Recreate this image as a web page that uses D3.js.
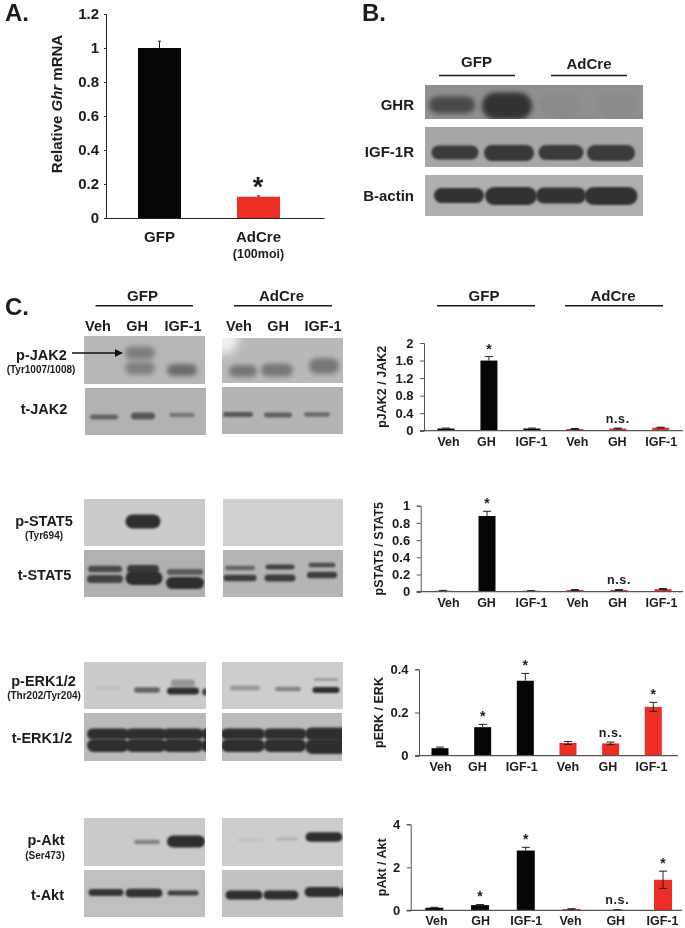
<!DOCTYPE html>
<html>
<head>
<meta charset="utf-8">
<script src="https://cdn.jsdelivr.net/npm/d3@7"></script>
<style>
  html, body { margin: 0; padding: 0; background: #fff; }
  svg { display: block; filter: blur(0.45px); }
  text { font-family: "Liberation Sans", Arial, sans-serif; font-weight: bold; fill: #1c1c1c; }
</style>
</head>
<body>
<svg width="685" height="928"></svg>
<script>
// --- values ---
var ghrCategories = ["GFP", "AdCre"];
var ghrValues = [1, 0.125];
var ghrErrors = [0.04, 0.005];
var ghrTicks = [0, 0.2, 0.4, 0.6, 0.8, 1, 1.2];

var treatments = ["Veh", "GH", "IGF-1", "Veh", "GH", "IGF-1"];
var groupColors = ["#050505", "#050505", "#050505", "#ee2e24", "#ee2e24", "#ee2e24"];

var jak2Values = [0.05, 1.6, 0.05, 0.04, 0.05, 0.07];
var jak2Errors = [0.01, 0.09, 0.01, 0.01, 0.01, 0.01];
var jak2Marks = ["", "*", "", "", "n.s.", ""];
var jak2Ticks = [0, 0.4, 0.8, 1.2, 1.6, 2];

var stat5Values = [0.01, 0.88, 0.01, 0.02, 0.02, 0.03];
var stat5Errors = [0.005, 0.055, 0.003, 0.005, 0.005, 0.007];
var stat5Marks = ["", "*", "", "", "n.s.", ""];
var stat5Ticks = [0, 0.2, 0.4, 0.6, 0.8, 1];

var erkValues = [0.035, 0.132, 0.347, 0.059, 0.057, 0.226];
var erkErrors = [0.005, 0.013, 0.034, 0.007, 0.006, 0.021];
var erkMarks = ["", "*", "*", "", "n.s.", "*"];
var erkTicks = [0, 0.2, 0.4];

var aktValues = [0.12, 0.24, 2.78, 0.06, 0.02, 1.42];
var aktErrors = [0.02, 0.03, 0.15, 0.01, 0.005, 0.4];
var aktMarks = ["", "*", "*", "", "n.s.", "*"];
var aktTicks = [0, 2, 4];

// band darkness per lane, 0 = nothing, 1 = saturated film
var ghrBlot = [0.72, 0.95, 0.07, 0.06, 0.2, 0.2];
var igf1rBlot = [0.9, 0.92, 0.9, 0.9];
var actinBlot = [0.97, 0.97, 0.97, 0.97];
var pJak2GfpBlot = [0.42, 0.4, 0.55];
var pJak2CreBlot = [0.5, 0.48, 0.48];
var tJak2GfpBlot = [0.6, 0.68, 0.45];
var tJak2CreBlot = [0.68, 0.62, 0.55];
var pStat5GfpBlot = [1];
var tStat5GfpBlot = [0.8, 0.85, 0.9, 1, 0.65, 1];
var tStat5CreBlot = [0.6, 0.88, 0.85, 0.9, 0.78, 0.9];
var pErkGfpBlot = [0.08, 0.65, 0.35, 1, 0.85];
var pErkCreBlot = [0.32, 0.45, 0.3, 1];
var tErkGfpBlot = [1, 1, 1, 1, 1, 1, 1, 1];
var tErkCreBlot = [1, 1, 1, 1, 1, 1];
var pAktGfpBlot = [0.45, 1];
var pAktCreBlot = [0.08, 0.16, 1];
var tAktGfpBlot = [0.95, 0.98, 0.88];
var tAktCreBlot = [1, 1, 1, 0.95];

var svg = d3.select("svg");
var defs = svg.append("defs");

[["soft", 2.4], ["softer", 4], ["sharp", 1.15]].forEach(function(f) {
  defs.append("filter").attr("id", f[0])
      .attr("x", "-40%").attr("y", "-300%").attr("width", "180%").attr("height", "700%")
    .append("feGaussianBlur").attr("stdDeviation", f[1]);
});

function addText(s, x, y, size, anchor, parent) {
  return (parent || svg).append("text")
      .attr("x", x).attr("y", y)
      .attr("font-size", size)
      .attr("text-anchor", anchor || "middle")
      .text(s);
}

function rule(x1, x2, y) {
  svg.append("line").attr("x1", x1).attr("x2", x2).attr("y1", y).attr("y2", y)
      .attr("stroke", "#1c1c1c").attr("stroke-width", 1.5);
}

// --- panel letters and headers ---
addText("A.", 5, 21, 24, "start");
addText("B.", 362, 21, 24, "start");
addText("C.", 5, 315, 24, "start");

addText("GFP", 476.5, 67, 15);
addText("AdCre", 589, 69, 15);
rule(439, 515, 75.5);
rule(551, 627, 75.5);

addText("GFP", 142.5, 301, 15);
addText("AdCre", 281.5, 301, 15);
rule(95.5, 193, 305.7);
rule(234, 332, 305.7);
addText("GFP", 484, 301, 15);
addText("AdCre", 613, 301, 15);
rule(437, 535, 305.7);
rule(565, 663, 305.7);

[98, 137, 183, 239, 278, 323].forEach(function(x, i) {
  addText(treatments[i], x, 331, 14.5);
});

// --- panel A bar chart ---
var aY = d3.scaleLinear().domain([0, 1.2]).range([218, 14]);
var aX = d3.scalePoint().domain(ghrCategories).range([159.5, 258.5]);
var aG = svg.append("g");

aG.selectAll("line.err").data(ghrValues).enter().append("line")
    .attr("x1", function(d, i) { return aX(ghrCategories[i]); })
    .attr("x2", function(d, i) { return aX(ghrCategories[i]); })
    .attr("y1", function(d) { return aY(d); })
    .attr("y2", function(d, i) { return aY(d + ghrErrors[i]); })
    .attr("stroke", "#222").attr("stroke-width", 1);
aG.selectAll("line.cap").data(ghrValues).enter().append("line")
    .attr("x1", function(d, i) { return aX(ghrCategories[i]) - 1.5; })
    .attr("x2", function(d, i) { return aX(ghrCategories[i]) + 1.5; })
    .attr("y1", function(d, i) { return aY(d + ghrErrors[i]); })
    .attr("y2", function(d, i) { return aY(d + ghrErrors[i]); })
    .attr("stroke", "#222").attr("stroke-width", 1);
aG.selectAll("rect").data(ghrValues).enter().append("rect")
    .attr("x", function(d, i) { return aX(ghrCategories[i]) - 21.5; })
    .attr("width", 43)
    .attr("y", function(d) { return aY(d); })
    .attr("height", function(d) { return aY(0) - aY(d); })
    .attr("fill", function(d, i) { return i ? "#ee2e24" : "#050505"; });

var aAxisY = svg.append("g").attr("transform", "translate(106,0)")
    .call(d3.axisLeft(aY).tickValues(ghrTicks).tickSize(2).tickPadding(5).tickFormat(d3.format("~g")));
aAxisY.selectAll("text").attr("font-size", 15);
aAxisY.selectAll("line,path").attr("stroke", "#222");

var aAxisX = svg.append("g").attr("transform", "translate(0,218)")
    .call(d3.axisBottom(d3.scaleLinear().domain([106, 324]).range([106, 324])).tickValues([]).tickSizeOuter(0));
aAxisX.select("path").attr("stroke", "#222").attr("stroke-width", 1.2);

addText("GFP", 159.5, 242, 15);
addText("AdCre", 258.5, 242, 15);
addText("(100moi)", 258.5, 258, 12.5);
addText("*", 258, 196, 27);

var aLabel = svg.append("text")
    .attr("transform", "translate(62,104) rotate(-90)")
    .attr("text-anchor", "middle").attr("font-size", 15);
aLabel.append("tspan").text("Relative ");
aLabel.append("tspan").attr("font-style", "italic").text("Ghr");
aLabel.append("tspan").text(" mRNA");

// --- blots ---
function drawBlot(box, density) {
  var g = svg.append("g");
  g.append("rect").attr("x", box.x[0]).attr("y", box.y[0])
      .attr("width", box.x[1] - box.x[0]).attr("height", box.y[1] - box.y[0])
      .attr("fill", box.bg);
  var clipId = "clip" + Math.round(box.x[0]) + "_" + Math.round(box.y[0]);
  defs.append("clipPath").attr("id", clipId).append("rect")
      .attr("x", box.x[0]).attr("y", box.y[0])
      .attr("width", box.x[1] - box.x[0]).attr("height", box.y[1] - box.y[0]);
  var inner = g.append("g").attr("clip-path", "url(#" + clipId + ")");
  var shade = d3.scaleLinear().domain([0, 1]).range([box.bg, "#2e2e2e"]);
  inner.selectAll("rect").data(density).enter().append("rect")
      .attr("x", function(d, i) { return box.bands[i][0] - box.bands[i][2] / 2; })
      .attr("y", function(d, i) { return box.bands[i][1] - box.bands[i][3] / 2; })
      .attr("width", function(d, i) { return box.bands[i][2]; })
      .attr("height", function(d, i) { return box.bands[i][3]; })
      .attr("rx", function(d, i) { return box.bands[i][3] / 2; })
      .attr("fill", function(d) { return shade(d); })
      .attr("filter", "url(#" + (box.blur || "sharp") + ")");
  return inner;
}

// each band is [centre x, centre y, width, height] in page pixels
drawBlot({ x: [425, 643], y: [85, 119], bg: "#909090", blur: "soft",
  bands: [[452, 105, 46, 17], [507, 106, 50, 27], [560, 105, 40, 22], [617, 105, 40, 22], [574, 119, 42, 2], [625, 119, 40, 2]] }, ghrBlot);
drawBlot({ x: [425, 643], y: [127, 167], bg: "#a6a6a6",
  bands: [[455, 152.5, 47, 14], [509, 153, 50, 16], [561, 152.5, 45, 15], [611, 153, 48, 16]] }, igf1rBlot);
drawBlot({ x: [425, 643], y: [175, 216], bg: "#afafaf",
  bands: [[459, 195.5, 50, 15], [511, 196, 52, 18], [561, 195.5, 50, 16], [611, 196, 53, 18]] }, actinBlot);

drawBlot({ x: [84, 205], y: [336, 384], bg: "#b7b7b7", blur: "soft",
  bands: [[140, 353, 30, 13], [140, 368, 30, 13], [182, 370, 30, 12]] }, pJak2GfpBlot);
var creJak = drawBlot({ x: [222, 343], y: [338, 383], bg: "#bababa", blur: "soft",
  bands: [[243, 371, 28, 12], [277, 370, 32, 13], [324, 366, 30, 16]] }, pJak2CreBlot);
creJak.append("ellipse").attr("cx", 224).attr("cy", 340).attr("rx", 14).attr("ry", 14)
    .attr("fill", "#f0f0f0").attr("filter", "url(#softer)");

drawBlot({ x: [85, 206], y: [388, 435], bg: "#b2b2b2",
  bands: [[104, 417, 28, 5], [143, 416, 24, 7], [182, 415, 25, 4.5]] }, tJak2GfpBlot);
drawBlot({ x: [222, 343], y: [387, 434], bg: "#b4b4b4",
  bands: [[238, 414.5, 30, 5], [278, 415, 28, 5], [317, 414.5, 26, 4.5]] }, tJak2CreBlot);

drawBlot({ x: [84, 205], y: [499, 546], bg: "#cbcbcb",
  bands: [[143, 521.5, 35, 14]] }, pStat5GfpBlot);
drawBlot({ x: [223, 343], y: [499, 546], bg: "#d0d0d0", bands: [] }, []);

drawBlot({ x: [84, 205], y: [550, 597], bg: "#b0b0b0",
  bands: [[105, 569, 34, 6.5], [105, 579, 36, 8], [143, 569, 32, 8], [144, 578, 37, 14], [185, 572, 36, 6], [185, 583, 38, 12]] }, tStat5GfpBlot);
drawBlot({ x: [223, 343], y: [550, 597], bg: "#b5b5b5",
  bands: [[240, 568, 30, 4.5], [240, 578, 33, 6.5], [280, 567, 29, 5], [280, 578, 31, 7], [322, 565, 27, 4.5], [322, 575, 30, 6.5]] }, tStat5CreBlot);

drawBlot({ x: [84, 206], y: [662, 709], bg: "#cbcbcb",
  bands: [[107, 688, 25, 3], [147, 690, 26, 5.5], [183, 683, 24, 7], [183, 691, 32, 7], [206, 692, 8, 7]] }, pErkGfpBlot);
drawBlot({ x: [222, 343], y: [662, 709], bg: "#cdcdcd",
  bands: [[245, 688, 30, 5], [288, 689, 26, 4.5], [326, 679.5, 24, 3], [326, 690, 27, 6]] }, pErkCreBlot);

drawBlot({ x: [84, 206], y: [713, 761], bg: "#bababa",
  bands: [[108, 734, 42, 11], [108, 745.5, 42, 13], [146, 734, 41, 11], [146, 745.5, 41, 13], [183, 734, 41, 11], [183, 745.5, 41, 13], [207, 734, 12, 11], [207, 745.5, 12, 13]] }, tErkGfpBlot);
drawBlot({ x: [222, 342], y: [713, 761], bg: "#bcbcbc",
  bands: [[243, 734, 44, 11], [243, 745.5, 44, 13], [285, 734, 43, 11], [285, 745.5, 43, 13], [327, 734, 44, 13], [327, 746.5, 44, 15]] }, tErkCreBlot);

drawBlot({ x: [84, 205], y: [818, 866], bg: "#cacaca",
  bands: [[147, 842, 26, 4.5], [186, 841.5, 38, 12]] }, pAktGfpBlot);
drawBlot({ x: [222, 343], y: [818, 866], bg: "#cdcdcd",
  bands: [[250, 840, 25, 2.5], [287, 839, 22, 3.5], [324, 837, 37, 9.5]] }, pAktCreBlot);

drawBlot({ x: [84, 205], y: [870, 917], bg: "#bfbfbf",
  bands: [[106, 892.5, 35, 7], [144, 893, 37, 8.5], [183, 893, 31, 5]] }, tAktGfpBlot);
drawBlot({ x: [222, 343], y: [870, 917], bg: "#c1c1c1",
  bands: [[244, 895, 37, 9], [281, 895, 35, 9], [323, 892, 37, 10], [344, 892, 8, 9]] }, tAktCreBlot);

// --- blot labels ---
addText("GHR", 414, 110, 15, "end");
addText("IGF-1R", 414, 157, 15, "end");
addText("B-actin", 414, 201, 15, "end");

addText("p-JAK2", 41.5, 360, 14.5);
addText("(Tyr1007/1008)", 41, 372.5, 10);
addText("t-JAK2", 44, 414, 14.5);
addText("p-STAT5", 44, 525.5, 14.5);
addText("(Tyr694)", 44, 538.5, 10);
addText("t-STAT5", 44.5, 580, 14.5);
addText("p-ERK1/2", 43.5, 685.5, 14.5);
addText("(Thr202/Tyr204)", 44, 698.5, 10);
addText("t-ERK1/2", 42, 743, 14.5);
addText("p-Akt", 46, 845, 14.5);
addText("(Ser473)", 45, 858.5, 10);
addText("t-Akt", 47.5, 900, 14.5);

defs.append("marker").attr("id", "head").attr("viewBox", "0 0 10 10")
    .attr("refX", 9).attr("refY", 5).attr("markerWidth", 8).attr("markerHeight", 8)
    .attr("markerUnits", "userSpaceOnUse").attr("orient", "auto")
  .append("path").attr("d", "M0,0L10,5L0,10z").attr("fill", "#111");
svg.append("line").attr("x1", 72).attr("x2", 122).attr("y1", 353).attr("y2", 353)
    .attr("stroke", "#111").attr("stroke-width", 1.5).attr("marker-end", "url(#head)");

// --- panel C bar charts ---
function smallChart(o) {
  var y = d3.scaleLinear().domain([0, o.ticks[o.ticks.length - 1]]).range(o.yRange);
  var x = d3.scalePoint().domain(d3.range(6)).range(o.xRange);
  var g = svg.append("g");
  var top = function(d, i) { return y(d + o.errors[i]); };
  var low = function(d, i) { return y(d - o.errors[i]); };

  g.selectAll("rect").data(o.values).enter().append("rect")
      .attr("x", function(d, i) { return x(i) - o.barWidth / 2; })
      .attr("width", o.barWidth)
      .attr("y", function(d) { return y(d); })
      .attr("height", function(d) { return y(0) - y(d); })
      .attr("fill", function(d, i) { return groupColors[i]; });

  // error bars go up and, on the red bars, down into the bar as well
  g.selectAll("path.err").data(o.values).enter().append("path")
      .attr("fill", "none").attr("stroke", "#222").attr("stroke-width", 1)
      .attr("d", function(d, i) {
        var cx = x(i), t = top(d, i), b = i > 2 ? low(d, i) : y(d);
        var cap = "M" + (cx - 4) + "," + t + "H" + (cx + 4);
        if (i > 2) cap += "M" + (cx - 4) + "," + b + "H" + (cx + 4);
        return cap + "M" + cx + "," + t + "V" + b;
      });

  var ax = svg.append("g").attr("transform", "translate(" + o.axisX + ",0)")
      .call(d3.axisLeft(y).tickValues(o.ticks).tickSize(4).tickPadding(6.5).tickFormat(d3.format("~g")));
  ax.selectAll("text").attr("font-size", 13);
  ax.selectAll("line,path").attr("stroke", "#555");

  var bottom = svg.append("g").attr("transform", "translate(0," + y(0) + ")")
      .call(d3.axisBottom(x).tickSize(0).tickPadding(6).tickFormat(function(i) { return treatments[i]; }));
  bottom.select("path").attr("stroke", "#555").attr("stroke-width", 1.2)
      .attr("d", "M" + (o.axisX - 4) + ",0H" + o.axisEnd);
  // the labels sit a little off their bars in the figure
  bottom.selectAll("text").attr("font-size", 12.5)
      .attr("dx", function(d, i) { return o.labelShift[i]; });

  g.selectAll("text").data(o.marks).enter().append("text")
      .attr("x", function(d, i) { return x(i); })
      .attr("y", function(d, i) {
        var t = top(o.values[i], i);
        return d === "*" ? t - 3 : t - 5.5;
      })
      .attr("text-anchor", "middle")
      .attr("letter-spacing", function(d) { return d === "*" ? 0 : 0.6; })
      .attr("font-size", function(d) { return d === "*" ? 14 : 12.5; })
      .text(function(d) { return d; });

  svg.append("text")
      .attr("transform", "translate(" + o.labelX + "," + d3.mean(o.yRange) + ") rotate(-90)")
      .attr("text-anchor", "middle").attr("font-size", 12.5)
      .text(o.label);
}

smallChart({ values: jak2Values, errors: jak2Errors, marks: jak2Marks, ticks: jak2Ticks, label: "pJAK2 / JAK2",
  yRange: [430.7, 343], xRange: [446, 660.7], axisX: 424, axisEnd: 683, barWidth: 17, labelX: 386,
  labelShift: [2, -3, -1, 2, -1, 0] });
smallChart({ values: stat5Values, errors: stat5Errors, marks: stat5Marks, ticks: stat5Ticks, label: "pSTAT5 / STAT5",
  yRange: [591.7, 505.7], xRange: [443, 663], axisX: 420.7, axisEnd: 683, barWidth: 17, labelX: 383,
  labelShift: [5, -1, 0, 2, -2, -2] });
smallChart({ values: erkValues, errors: erkErrors, marks: erkMarks, ticks: erkTicks, label: "pERK / ERK",
  yRange: [755.7, 669.3], xRange: [440, 653.3], axisX: 419, axisEnd: 678, barWidth: 17, labelX: 383,
  labelShift: [0, -5.7, -4, -0.5, -3.3, -2.3] });
smallChart({ values: aktValues, errors: aktErrors, marks: aktMarks, ticks: aktTicks, label: "pAkt / Akt",
  yRange: [910.3, 824.3], xRange: [434.3, 663], axisX: 410.7, axisEnd: 682, barWidth: 18, labelX: 386,
  labelShift: [1.7, 0, 0, -1.5, -2, -1] });
</script>
</body>
</html>
